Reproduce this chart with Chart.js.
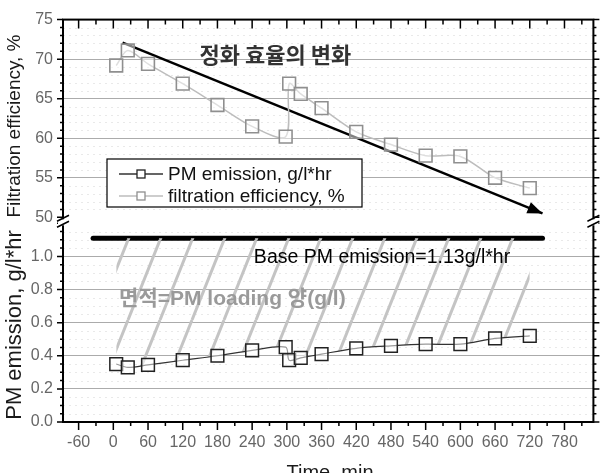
<!DOCTYPE html>
<html>
<head>
<meta charset="utf-8">
<script src="https://cdn.jsdelivr.net/npm/chart.js@4.4.0/dist/chart.umd.min.js"></script>
<style>
  html, body { margin: 0; padding: 0; background: #fff; }
  #wrap { width: 604px; height: 473px; }
</style>
</head>
<body>
<div id="wrap"><canvas id="chart" width="604" height="473"></canvas></div>
<script>
// Sampling times (min), shared by both series
const timeMin = [5, 25, 60, 120, 180, 240, 298, 304, 324, 360, 420, 480, 540, 600, 660, 720];
const pmEmission = [0.35, 0.33, 0.345, 0.373, 0.40, 0.433, 0.452, 0.373, 0.387, 0.41, 0.445, 0.46, 0.47, 0.47, 0.505, 0.52];
const filtEfficiency = [69.2, 71.1, 69.4, 66.9, 64.2, 61.5, 60.2, 66.9, 65.6, 63.8, 60.8, 59.2, 57.8, 57.7, 55.0, 53.7];

// Tick labels
const xTicks = [-60, 0, 60, 120, 180, 240, 300, 360, 420, 480, 540, 600, 660, 720, 780];
const effTicks = [50, 55, 60, 65, 70, 75];
const pmTicks = [0, 0.2, 0.4, 0.6, 0.8, 1.0];

// Annotation lines (data units)
const baseLineX = [-35, 742];
const basePM = 1.11;
const trendX = [16, 742];
const trendY = [72.1, 50.5];

const FONT = '"Liberation Sans", Arial, sans-serif';

// Hatch pattern for the PM loading area
function makeHatch() {
    const w = 32, h = 80;
    const c = document.createElement('canvas');
    c.width = w; c.height = h;
    const g = c.getContext('2d');
    g.strokeStyle = '#c4c4c4';
    g.lineWidth = 3;
    for (let k = -1; k <= 1; k++) {
        g.beginPath();
        g.moveTo(k * w, h);
        g.lineTo(k * w + w, 0);
        g.stroke();
    }
    return g.createPattern(c, 'repeat');
}

function pts(xs, ys) {
    return xs.map((x, i) => ({ x: x, y: Array.isArray(ys) ? ys[i] : ys }));
}

const decor = {
    id: 'decor',
    beforeDatasetsDraw(chart) {
        // faint minor grid
        const ctx = chart.ctx, a = chart.chartArea;
        const yt = chart.scales.yTop, yb = chart.scales.yBot;
        ctx.save();
        ctx.strokeStyle = '#e9e9e9';
        ctx.lineWidth = 1;
        ctx.setLineDash([2, 4]);
        for (let v = 51; v < 75; v++) {
            if (v % 5 === 0) continue;
            const y = Math.round(yt.getPixelForValue(v)) + 0.5;
            ctx.beginPath(); ctx.moveTo(a.left, y); ctx.lineTo(a.right, y); ctx.stroke();
        }
        for (let k = 1; k < 24; k++) {
            if (k % 4 === 0) continue;
            const y = Math.round(yb.getPixelForValue(k * 0.05)) + 0.5;
            ctx.beginPath(); ctx.moveTo(a.left, y); ctx.lineTo(a.right, y); ctx.stroke();
        }
        ctx.restore();
    },
    afterDraw(chart) {
        const ctx = chart.ctx, a = chart.chartArea;
        const xs = chart.scales.x, yt = chart.scales.yTop, yb = chart.scales.yBot;
        ctx.save();

        // arrow head on the trend line
        const meta = chart.getDatasetMeta(3);
        const p0 = meta.data[0], p1 = meta.data[1];
        const ang = Math.atan2(p1.y - p0.y, p1.x - p0.x);
        ctx.fillStyle = '#000';
        ctx.beginPath();
        ctx.moveTo(p1.x, p1.y);
        ctx.lineTo(p1.x - 15 * Math.cos(ang) + 6 * Math.sin(ang), p1.y - 15 * Math.sin(ang) - 6 * Math.cos(ang));
        ctx.lineTo(p1.x - 15 * Math.cos(ang) - 6 * Math.sin(ang), p1.y - 15 * Math.sin(ang) + 6 * Math.cos(ang));
        ctx.closePath();
        ctx.fill();

        // frame
        ctx.strokeStyle = '#000';
        ctx.lineWidth = 2;
        ctx.strokeRect(a.left, a.top, a.right - a.left, a.bottom - a.top);

        // tick marks
        ctx.lineWidth = 1.5;
        ctx.beginPath();
        for (let v = -60; v <= 810; v += 30) {
            const x = xs.getPixelForValue(v);
            const major = v % 60 === 0;
            ctx.moveTo(x, a.bottom); ctx.lineTo(x, a.bottom + (major ? 8 : 4));
            ctx.moveTo(x, a.top); ctx.lineTo(x, a.top + (major ? 9 : 5));
        }
        for (let v = 50; v <= 75; v++) {
            const y = yt.getPixelForValue(v);
            const len = v % 5 === 0 ? 6 : 3;
            ctx.moveTo(a.left, y); ctx.lineTo(a.left - len, y);
            ctx.moveTo(a.right, y); ctx.lineTo(a.right + len, y);
        }
        for (let k = 0; k <= 24; k++) {
            const y = yb.getPixelForValue(k * 0.05);
            const len = k % 4 === 0 ? 6 : 3;
            ctx.moveTo(a.left, y); ctx.lineTo(a.left - len, y);
            ctx.moveTo(a.right, y); ctx.lineTo(a.right + len, y);
        }
        ctx.stroke();

        // axis breaks
        const yBreak = yb.top;
        [a.left, a.right].forEach(x => {
            ctx.fillStyle = '#fff';
            ctx.fillRect(x - 5, yBreak - 3, 10, 6);
            ctx.strokeStyle = '#000';
            ctx.lineWidth = 1.5;
            ctx.beginPath();
            ctx.moveTo(x - 6, yBreak - 1); ctx.lineTo(x + 6, yBreak - 7);
            ctx.moveTo(x - 6, yBreak + 5); ctx.lineTo(x + 6, yBreak - 1);
            ctx.stroke();
        });

        // legend
        const lx = 107, ly = 159, lw = 255, lh = 48;
        ctx.fillStyle = '#fff';
        ctx.fillRect(lx, ly, lw, lh);
        ctx.strokeStyle = '#000';
        ctx.lineWidth = 1.2;
        ctx.strokeRect(lx, ly, lw, lh);
        [0, 1].forEach((di, r) => {
            const ds = chart.data.datasets[di];
            const y = ly + 15 + r * 22;
            ctx.strokeStyle = ds.borderColor;
            ctx.lineWidth = 1.3;
            ctx.beginPath(); ctx.moveTo(lx + 12, y); ctx.lineTo(lx + 30, y);
            ctx.moveTo(lx + 38, y); ctx.lineTo(lx + 56, y); ctx.stroke();
            ctx.strokeStyle = ds.pointBorderColor;
            ctx.strokeRect(lx + 30, y - 4, 8, 8);
            ctx.fillStyle = '#111';
            ctx.font = '19px ' + FONT;
            ctx.textBaseline = 'middle';
            ctx.textAlign = 'left';
            ctx.fillText(ds.label, lx + 61, y + 1);
        });

        // annotations
        ctx.textBaseline = 'middle';
        ctx.textAlign = 'left';
        ctx.fillStyle = '#333';
        ctx.font = 'bold 22px "Noto Sans CJK KR", sans-serif';
        ctx.fillText('정화 효율의 변화', xs.getPixelForValue(149), yt.getPixelForValue(70.6));
        ctx.fillStyle = '#000';
        ctx.font = '19.5px ' + FONT;
        ctx.fillText('Base PM emission=1.13g/l*hr', xs.getPixelForValue(243), yb.getPixelForValue(0.995));
        ctx.fillStyle = '#9a9a9a';
        ctx.font = 'bold 21px ' + FONT + ', "Noto Sans CJK KR"';
        ctx.fillText('면적=PM loading 양(g/l)', xs.getPixelForValue(10), yb.getPixelForValue(0.74));

        // axis titles
        ctx.fillStyle = '#1a1a1a';
        ctx.textAlign = 'center';
        ctx.save();
        ctx.font = '19px ' + FONT;
        ctx.translate(15, 126); ctx.rotate(-Math.PI / 2);
        ctx.fillText('Filtration efficiency, %', 0, 0);
        ctx.restore();
        ctx.save();
        ctx.font = '22px ' + FONT;
        ctx.translate(15, 325); ctx.rotate(-Math.PI / 2);
        ctx.fillText('PM emission, g/l*hr', 0, 0);
        ctx.restore();
        ctx.font = '20px ' + FONT;
        ctx.textBaseline = 'alphabetic';
        ctx.fillText('Time, min', 330, 479);

        ctx.restore();
    }
};

const tickFont = { family: FONT, size: 16 };

new Chart(document.getElementById('chart'), {
    type: 'line',
    data: {
        datasets: [
            {
                label: 'PM emission, g/l*hr',
                data: pts(timeMin, pmEmission),
                yAxisID: 'yBot',
                borderColor: '#333',
                borderWidth: 1.2,
                backgroundColor: makeHatch(),
                fill: { value: basePM },
                tension: 0.3,
                pointStyle: 'rect',
                pointRadius: 9,
                pointBorderWidth: 1.5,
                pointBorderColor: '#222',
                pointBackgroundColor: 'rgba(255,255,255,0.5)'
            },
            {
                label: 'filtration efficiency, %',
                data: pts(timeMin, filtEfficiency),
                yAxisID: 'yTop',
                borderColor: '#bdbdbd',
                borderWidth: 1.5,
                fill: false,
                tension: 0.3,
                pointStyle: 'rect',
                pointRadius: 9,
                pointBorderWidth: 1.6,
                pointBorderColor: '#8f8f8f',
                pointBackgroundColor: 'rgba(255,255,255,0.5)'
            },
            {
                label: 'base',
                data: pts(baseLineX, basePM),
                yAxisID: 'yBot',
                borderColor: '#000',
                borderWidth: 5,
                borderCapStyle: 'round',
                fill: false,
                pointRadius: 0
            },
            {
                label: 'trend',
                data: pts(trendX, trendY),
                yAxisID: 'yTop',
                borderColor: '#000',
                borderWidth: 2.5,
                fill: false,
                pointRadius: 0
            }
        ]
    },
    options: {
        responsive: false,
        animation: false,
        layout: { padding: { top: 15, right: 6, left: 0, bottom: 0 } },
        plugins: { legend: { display: false }, tooltip: { enabled: false } },
        scales: {
            x: {
                type: 'linear',
                min: -87,
                max: 830,
                afterBuildTicks: s => { s.ticks = xTicks.map(v => ({ value: v })); },
                afterFit: s => { s.height = 51; },
                grid: { display: false, drawTicks: false },
                border: { display: false },
                ticks: { font: tickFont, color: '#666', padding: 11, maxRotation: 0 }
            },
            yBot: {
                type: 'linear',
                position: 'left',
                stack: 'y',
                stackWeight: 202,
                min: 0,
                max: 1.206,
                afterBuildTicks: s => { s.ticks = pmTicks.map(v => ({ value: v })); },
                afterFit: s => { s.width = 63; },
                grid: { color: '#ababab', lineWidth: 1, drawTicks: false },
                border: { display: false },
                ticks: { font: tickFont, color: '#666', padding: 10, callback: v => v.toFixed(1) }
            },
            yTop: {
                type: 'linear',
                position: 'left',
                stack: 'y',
                stackWeight: 205,
                min: 49.375,
                max: 75,
                afterBuildTicks: s => { s.ticks = effTicks.map(v => ({ value: v })); },
                afterFit: s => { s.width = 63; },
                grid: { color: c => c.tick && c.tick.value === 50 ? 'rgba(0,0,0,0)' : '#ababab', lineWidth: 1, drawTicks: false },
                border: { display: false },
                ticks: { font: tickFont, color: '#666', padding: 10 }
            }
        }
    },
    plugins: [decor]
});
</script>
</body>
</html>
